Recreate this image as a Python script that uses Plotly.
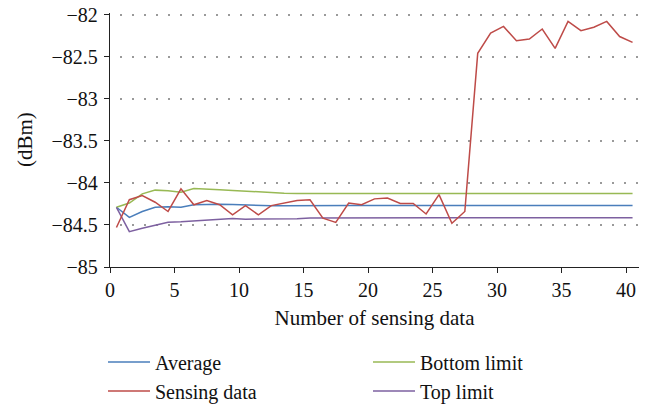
import plotly.graph_objects as go

# Sample positions (sensing index, centred in each slot)
sample_index = [
    0.5, 1.5, 2.5, 3.5, 4.5, 5.5, 6.5, 7.5, 8.5, 9.5,
    10.5, 11.5, 12.5, 13.5, 14.5, 15.5, 16.5, 17.5, 18.5, 19.5,
    20.5, 21.5, 22.5, 23.5, 24.5, 25.5, 26.5, 27.5, 28.5, 29.5,
    30.5, 31.5, 32.5, 33.5, 34.5, 35.5, 36.5, 37.5, 38.5, 39.5,
    40.5,
]

# Received power (dBm)
average = [
    -84.29, -84.41, -84.34, -84.29, -84.285, -84.29, -84.26, -84.255, -84.255, -84.257,
    -84.265, -84.268, -84.272, -84.272, -84.27, -84.27, -84.27, -84.27, -84.27, -84.27,
    -84.27, -84.27, -84.27, -84.27, -84.27, -84.27, -84.27, -84.27, -84.27, -84.27,
    -84.27, -84.27, -84.27, -84.27, -84.27, -84.27, -84.27, -84.27, -84.27, -84.27,
    -84.27,
]
sensing_data = [
    -84.53, -84.20, -84.15, -84.23, -84.34, -84.07, -84.26, -84.21, -84.26, -84.38,
    -84.27, -84.38, -84.27, -84.24, -84.21, -84.20, -84.42, -84.47, -84.24, -84.26,
    -84.19, -84.18, -84.245, -84.245, -84.37, -84.14, -84.48, -84.34, -82.46, -82.22,
    -82.14, -82.31, -82.29, -82.17, -82.40, -82.08, -82.19, -82.15, -82.08, -82.26,
    -82.33,
]
bottom_limit = [
    -84.29, -84.24, -84.13, -84.086, -84.094, -84.11, -84.066, -84.078, -84.082, -84.09,
    -84.10, -84.11, -84.118, -84.122, -84.125, -84.125, -84.125, -84.125, -84.125, -84.125,
    -84.125, -84.125, -84.125, -84.125, -84.125, -84.125, -84.125, -84.125, -84.125, -84.125,
    -84.125, -84.125, -84.125, -84.125, -84.125, -84.125, -84.125, -84.125, -84.125, -84.125,
    -84.125,
]
top_limit = [
    -84.29, -84.58, -84.54, -84.50, -84.467, -84.463, -84.455, -84.443, -84.431, -84.423,
    -84.431, -84.431, -84.433, -84.43, -84.425, -84.416, -84.415, -84.415, -84.415, -84.415,
    -84.415, -84.415, -84.415, -84.415, -84.415, -84.415, -84.415, -84.415, -84.415, -84.415,
    -84.415, -84.415, -84.415, -84.415, -84.415, -84.415, -84.415, -84.415, -84.415, -84.415,
    -84.415,
]

y_tick_values = [-85, -84.5, -84, -83.5, -83, -82.5, -82]
y_tick_labels = ["\u221285", "\u221284.5", "\u221284", "\u221283.5", "\u221283", "\u221282.5", "\u221282"]
x_tick_values = [0, 5, 10, 15, 20, 25, 30, 35, 40]

FONT = "Liberation Serif, Times New Roman, serif"
TEXT = dict(family=FONT, size=20, color="#111")
TITLE = dict(family=FONT, size=21, color="#111")

# Plot-area geometry in pixels
WIDTH, HEIGHT = 659, 404
M_LEFT, M_RIGHT, M_TOP, M_BOTTOM = 110, 20, 13, 137
PLOT_W = WIDTH - M_LEFT - M_RIGHT

series = [
    # name, values, colour, legend column, legend rank
    ("Average", average, "#4A7EBB", "legend", 1),
    ("Bottom limit", bottom_limit, "#98B954", "legend2", 1),
    ("Top limit", top_limit, "#7D60A0", "legend2", 2),
    ("Sensing data", sensing_data, "#BE4B48", "legend", 2),
]

fig = go.Figure()
for name, values, colour, legend_id, rank in series:
    fig.add_trace(go.Scatter(
        x=sample_index, y=values, name=name, mode="lines",
        line=dict(color=colour, width=1.5),
        legend=legend_id, legendrank=rank,
    ))

legend_common = dict(
    orientation="v",
    xref="container", yref="container",
    y=1 - 342.5 / HEIGHT, xanchor="left", yanchor="top",
    itemwidth=42,
    font=TEXT,
    bgcolor="rgba(0,0,0,0)",
    tracegroupgap=0,
)

fig.update_layout(
    width=WIDTH, height=HEIGHT,
    margin=dict(l=M_LEFT, r=M_RIGHT, t=M_TOP, b=M_BOTTOM, autoexpand=False),
    paper_bgcolor="white", plot_bgcolor="white",
    font=TEXT,
    showlegend=True,
    legend=dict(x=103 / WIDTH, **legend_common),
    legend2=dict(x=368 / WIDTH, **legend_common),
    xaxis=dict(
        range=[0, 41], automargin=False,
        tickmode="array", tickvals=x_tick_values,
        tickfont=TEXT,
        ticks="outside", ticklen=5, tickwidth=1.2, tickcolor="#222",
        showline=True, linecolor="#222", linewidth=1.3,
        showgrid=False, zeroline=False,
        title=dict(text="Number of sensing data", font=TITLE, standoff=10),
    ),
    yaxis=dict(
        # a little headroom above -82 so its dotted gridline is kept
        range=[-85, -81.98], automargin=False,
        tickmode="array", tickvals=y_tick_values, ticktext=y_tick_labels,
        tickfont=TEXT, ticklabelstandoff=2,
        ticks="outside", ticklen=5, tickwidth=1.2, tickcolor="#222",
        showline=True, linecolor="#222", linewidth=1.3,
        showgrid=True, gridcolor="#9a9a9a", gridwidth=2,
        griddash="0px,10px,2px,0px",
        zeroline=False,
    ),
    annotations=[dict(
        text="(dBm)", textangle=-90, showarrow=False,
        xref="paper", yref="paper",
        x=(25 - M_LEFT) / PLOT_W, y=0.5,
        xanchor="center", yanchor="middle",
        font=TITLE,
    )],
)

fig.write_html("out.html")
